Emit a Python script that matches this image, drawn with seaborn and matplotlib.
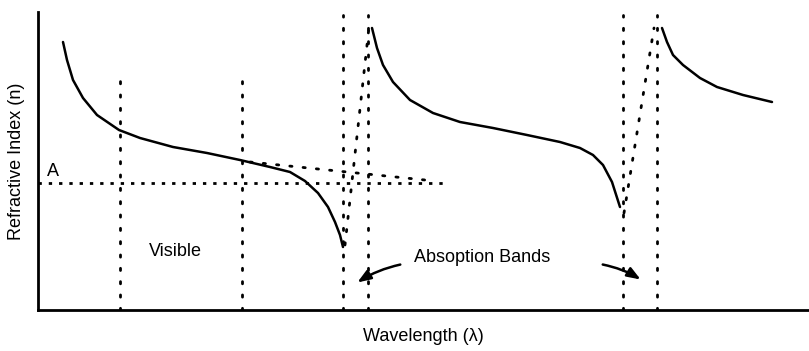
import matplotlib.pyplot as plt
import pandas as pd
import seaborn as sns

# Schematic dispersion curves (arbitrary units)
wl_1 = [25, 29, 35, 45, 59, 81, 102, 135, 169, 202, 232, 252, 267, 280, 290, 297, 302, 305]
n_1 = [268, 250, 230, 212, 195, 180, 172, 163, 157, 150, 143, 138, 129, 117, 103, 88, 75, 63]

wl_2 = [334, 339, 345, 355, 372, 395, 422, 455, 489, 522, 542, 555, 565, 574, 582]
n_2 = [282, 262, 245, 228, 210, 197, 188, 182, 175, 168, 162, 155, 145, 128, 103]

wl_3 = [624, 629, 635, 645, 662, 679, 705, 734]
n_3 = [282, 268, 255, 245, 232, 223, 215, 208]

# anomalous-dispersion jumps across the absorption bands
jump_wl = [[307, 331], [586, 616]]
jump_n = [[65, 283], [97, 282]]

# visible band limits and absorption band limits
visible_wl = [82, 204]
visible_top = 233
band_wl = [305, 330, 585, 619]
band_top = 295

# level A and tangent at the end of the visible band
level_a = 127
level_a_end = 409
tangent_wl = [212, 387]
tangent_n = [148, 130]

df = pd.concat([
    pd.DataFrame({'wl': wl_1, 'n': n_1, 'seg': 'c1'}),
    pd.DataFrame({'wl': wl_2, 'n': n_2, 'seg': 'c2'}),
    pd.DataFrame({'wl': wl_3, 'n': n_3, 'seg': 'c3'}),
])

sns.set_style("white")
plt.rcParams['font.family'] = ['Liberation Sans', 'DejaVu Sans']
plt.rcParams['text.color'] = 'black'
plt.rcParams['axes.labelcolor'] = 'black'

fig = plt.figure(figsize=(8.09, 3.51), dpi=100)
ax = fig.add_axes([38 / 809, 41 / 351, 771 / 809, 298 / 351])

sns.lineplot(data=df, x='wl', y='n', units='seg', estimator=None, sort=False,
             color='black', linewidth=1.8, ax=ax)
for line in ax.lines:
    line.set_solid_joinstyle('round')

dots = dict(color='black', linewidth=2, linestyle=(0, (0.8, 4)), dash_capstyle='round')
for x in visible_wl:
    ax.plot([x, x], [0, visible_top], **dots)
for x in band_wl:
    ax.plot([x, x], [0, band_top], **dots)
for xs, ys in zip(jump_wl, jump_n):
    ax.plot(xs, ys, **dots)
ax.plot(tangent_wl, tangent_n, **dots)
ax.plot([0, level_a_end], [level_a, level_a], color='black', linewidth=2,
        linestyle=(0, (1.2, 2.5)))

ax.text(9, 138, 'A', fontsize=13, va='center', ha='left')
ax.text(137, 58, 'Visible', fontsize=13, va='center', ha='center')
ax.text(376, 52, 'Absoption Bands', fontsize=13, va='center', ha='left')

arrow = dict(arrowstyle='-|>,head_length=0.8,head_width=0.3', color='black', lw=1.8)
ax.annotate('', xy=(317, 26), xytext=(365, 46),
            arrowprops=dict(connectionstyle='arc3,rad=0.1', **arrow))
ax.annotate('', xy=(605, 29), xytext=(562, 46),
            arrowprops=dict(connectionstyle='arc3,rad=-0.1', **arrow))

ax.set_xlim(0, 771)
ax.set_ylim(0, 298)
ax.set_xticks([])
ax.set_yticks([])
sns.despine(ax=ax)
for side in ['left', 'bottom']:
    ax.spines[side].set_linewidth(2)
    ax.spines[side].set_color('black')

ax.set_xlabel('Wavelength (λ)', fontsize=13, labelpad=13)
ax.set_ylabel('Refractive Index (n)', fontsize=13, labelpad=9)

fig.savefig('out.png', dpi=100)
